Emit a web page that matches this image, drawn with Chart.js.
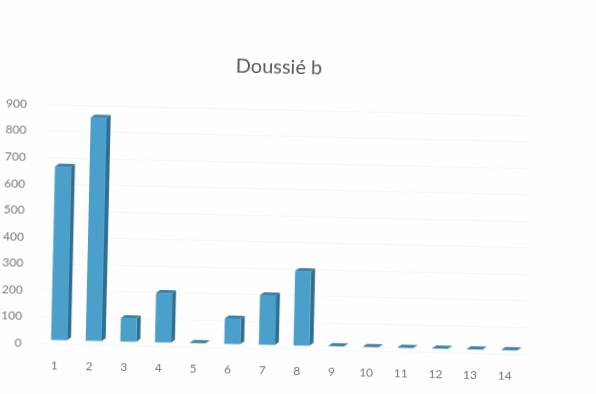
<!DOCTYPE html>
<html>
<head>
<meta charset="utf-8">
<title>Doussié b</title>
<script src="https://cdn.jsdelivr.net/npm/chart.js@4/dist/chart.umd.min.js"></script>
<style>
html, body { margin: 0; padding: 0; width: 596px; height: 394px; overflow: hidden; background: #fefefe; }
/* the source is a scan, sheet sits slightly crooked */
#chart { display: block; transform: rotate(1.3deg); transform-origin: 298px 197px; }
</style>
</head>
<body>
<canvas id="chart" width="596" height="394"></canvas>
<script>
var categories = ['1','2','3','4','5','6','7','8','9','10','11','12','13','14'];
var values = [655, 843, 90, 188, 3, 98, 188, 282, 3, 3, 3, 3, 3, 3];
var yMax = 900;
var yStep = 100;
var chartTitle = 'Doussié b';

var depthX = 4;
var depthY = 3;
var floorLift = 3;

// side and top faces, bars are flat in chart.js
var bars3d = {
	id: 'bars3d',
	afterLayout: function(chart){
		chart.titleBlock.right = 552;
	},
	afterDatasetsDraw: function(chart){
		var ctx = chart.ctx;
		var bars = chart.getDatasetMeta(0).data;
		ctx.save();
		for(var i in bars){
			var b = bars[i];
			var left = b.x - b.width / 2;
			var right = b.x + b.width / 2;
			var top = b.y - floorLift;
			var base = b.base - floorLift;

			ctx.fillStyle = '#2f6f93';
			ctx.beginPath();
			ctx.moveTo(right, top);
			ctx.lineTo(right + depthX, top - depthY);
			ctx.lineTo(right + depthX, base - depthY);
			ctx.lineTo(right, base);
			ctx.closePath();
			ctx.fill();

			ctx.fillStyle = '#3f83a8';
			ctx.beginPath();
			ctx.moveTo(left, top);
			ctx.lineTo(left + depthX, top - depthY);
			ctx.lineTo(right + depthX, top - depthY);
			ctx.lineTo(right, top);
			ctx.closePath();
			ctx.fill();

			ctx.fillStyle = '#4b9fcb';
			ctx.fillRect(left, top, b.width, base - top);
		}
		ctx.restore();
	}
};

var ctx = document.getElementById('chart');

new Chart(ctx, {
	type: 'bar',
	data: {
		labels: categories,
		datasets: [{
			data: values,
			backgroundColor: 'transparent',
			barPercentage: 0.46,
			categoryPercentage: 1
		}]
	},
	options: {
		responsive: false,
		animation: false,
		layout: { padding: { right: 66 } },
		plugins: {
			legend: { display: false },
			tooltip: { enabled: false },
			title: {
				display: true,
				text: chartTitle,
				color: '#5a5a5a',
				font: { family: 'Lato', size: 20, weight: 'normal' },
				padding: { top: 56, bottom: 30 }
			}
		},
		scales: {
			x: {
				grid: { display: false },
				border: { display: false },
				afterFit: function(scale){ scale.height = 45; },
				ticks: {
					color: '#777',
					font: { family: 'Lato', size: 12 },
					padding: 7,
					labelOffset: -4,
					maxRotation: 0
				}
			},
			y: {
				min: 0,
				max: yMax,
				grid: { color: '#f7f7f7', drawTicks: false },
				border: { display: false },
				afterFit: function(scale){ scale.width = 45; },
				ticks: {
					stepSize: yStep,
					color: '#777',
					font: { family: 'Lato', size: 12 },
					padding: 20
				}
			}
		}
	},
	plugins: [bars3d]
});
</script>
</body>
</html>
